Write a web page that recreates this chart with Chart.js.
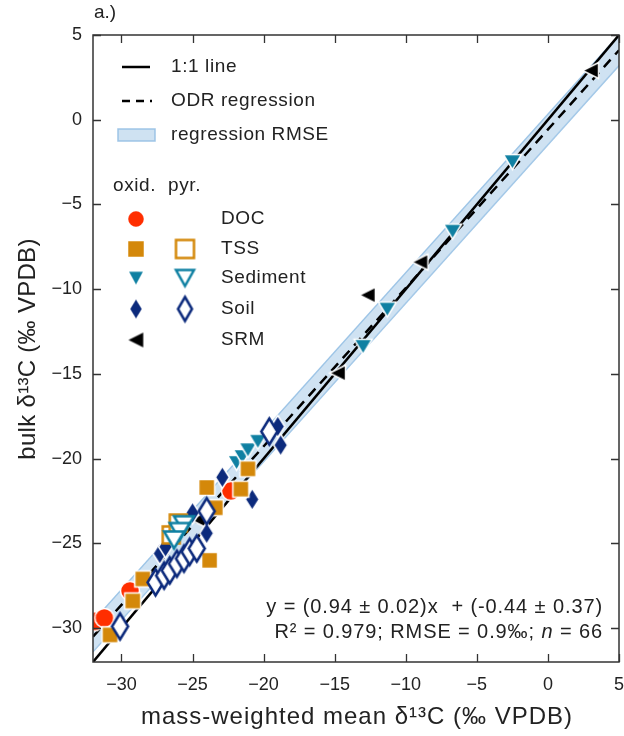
<!DOCTYPE html>
<html>
<head>
<meta charset="utf-8">
<script src="https://cdn.jsdelivr.net/npm/chart.js@4/dist/chart.umd.min.js"></script>
<style>
  html, body { margin: 0; padding: 0; background: #fff; }
  #wrap { width: 624px; height: 736px; }
</style>
</head>
<body>
<div id="wrap"><canvas id="grafico" width="624" height="736"></canvas></div>
<script>
// valores (x = media ponderada, y = bulk)
const docX = [-31.9, -31.2, -29.4, -22.3];
const docY = [-29.6, -29.4, -27.8, -21.9];

const tssOxX = [-30.8, -29.2, -28.5, -24.0, -23.8, -23.4, -21.6, -21.1];
const tssOxY = [-30.4, -28.4, -27.1, -21.7, -26.0, -22.9, -21.8, -20.6];
const tssPyX = [-26.5, -26.0];
const tssPyY = [-24.5, -23.8];

const sedOxX = [-21.9, -21.5, -21.1, -20.4, -13.0, -11.3, -6.7, -2.5];
const sedOxY = [-20.25, -19.9, -19.5, -19.0, -13.4, -11.2, -6.6, -2.5];
const sedPyX = [-25.6, -25.9, -26.3];
const sedPyY = [-23.9, -24.3, -24.8];

const soilOxX = [-27.3, -26.9, -25.0, -24.0, -22.9, -20.8, -19.0, -18.8];
const soilOxY = [-25.6, -25.2, -23.2, -24.4, -21.1, -22.4, -18.1, -19.2];
const soilPyX = [-30.1, -27.6, -27.0, -26.6, -26.1, -25.6, -25.2, -24.7, -24.0, -19.6];
const soilPyY = [-29.9, -27.3, -26.9, -26.6, -26.2, -25.9, -25.5, -25.3, -23.1, -18.4];

const srmX = [3.0, -9.0, -12.7, -14.8, -24.6];
const srmY = [2.9, -8.4, -10.35, -14.95, -23.6];

// lineas
const lineX = [-32, 5];
const oneToOneY = [-32, 5];
const odrY = [-30.5, 4.1];
const bandHiY = [-29.6, 5.0];
const bandLoY = [-31.4, 3.2];

const xTicks = [-30, -25, -20, -15, -10, -5, 0, 5];
const yTicks = [-30, -25, -20, -15, -10, -5, 0, 5];

const C_DOC = "#ff2e00";
const C_TSS = "#d4880a";
const C_SED = "#0f80a2";
const C_SOIL = "#0c2a7c";
const C_SRM = "#000000";
const FONT = "'Liberation Sans', Arial, sans-serif";

function pts(xs, ys) {
  return xs.map((x, i) => ({ x: x, y: ys[i] }));
}

function marcador(forma, w, h, relleno, borde, lw) {
  const c = document.createElement("canvas");
  c.width = Math.ceil(w + lw * 2 + 2);
  c.height = Math.ceil(h + lw * 2 + 2);
  const g = c.getContext("2d");
  g.translate(c.width / 2, c.height / 2);
  g.beginPath();
  if (forma === "circle") g.arc(0, 0, w / 2, 0, Math.PI * 2);
  if (forma === "square") g.rect(-w / 2, -h / 2, w, h);
  if (forma === "down") { g.moveTo(-w / 2, -h / 2); g.lineTo(w / 2, -h / 2); g.lineTo(0, h / 2); }
  if (forma === "left") { g.moveTo(w / 2, -h / 2); g.lineTo(w / 2, h / 2); g.lineTo(-w / 2, 0); }
  if (forma === "diamond") { g.moveTo(0, -h / 2); g.lineTo(w / 2, 0); g.lineTo(0, h / 2); g.lineTo(-w / 2, 0); }
  g.closePath();
  g.fillStyle = relleno;
  g.fill();
  g.lineWidth = lw;
  g.strokeStyle = borde;
  g.lineJoin = "miter";
  g.stroke();
  return c;
}

const mk = {
  doc: marcador("circle", 19, 19, C_DOC, "#fff", 1.5),
  tssOx: marcador("square", 16, 16, C_TSS, "#fff", 1.5),
  tssPy: marcador("square", 17, 17, "#fff", C_TSS, 2.5),
  sedOx: marcador("down", 18, 15, C_SED, "#fff", 1.5),
  sedPy: marcador("down", 20, 17, "#fff", C_SED, 2.5),
  soilOx: marcador("diamond", 14, 22, C_SOIL, "#fff", 1.5),
  soilPy: marcador("diamond", 16, 26, "#fff", C_SOIL, 2.5),
  srm: marcador("left", 16, 16, C_SRM, "#fff", 1.5),
};

const mkLeyenda = {
  doc: marcador("circle", 15, 15, C_DOC, C_DOC, 0.5),
  tssOx: marcador("square", 15, 15, C_TSS, C_TSS, 0.5),
  tssPy: marcador("square", 18, 18, "#fff", C_TSS, 2.5),
  sedOx: marcador("down", 13, 12, C_SED, C_SED, 0.5),
  sedPy: marcador("down", 18, 16, "#fff", C_SED, 2.5),
  soilOx: marcador("diamond", 11, 18, C_SOIL, C_SOIL, 0.5),
  soilPy: marcador("diamond", 14, 24, "#fff", C_SOIL, 2.5),
  srm: marcador("left", 14, 14, C_SRM, C_SRM, 0.5),
};

function serie(label, xs, ys, img, orden) {
  return {
    type: "scatter",
    label: label,
    data: pts(xs, ys),
    pointStyle: img,
    pointRadius: 10,
    clip: 0,
    order: orden,
  };
}

function linea(label, ys, color, ancho, dash, orden, fill, bg) {
  return {
    type: "line",
    label: label,
    data: pts(lineX, ys),
    borderColor: color,
    borderWidth: ancho,
    borderDash: dash,
    pointRadius: 0,
    fill: fill,
    backgroundColor: bg || "transparent",
    clip: 0,
    order: orden,
  };
}

function fmt(v) {
  return v < 0 ? "\u2212" + Math.abs(v) : String(v);
}

function sinPadding(s) {
  s.paddingLeft = 0;
  s.paddingRight = 0;
  s.paddingTop = 0;
  s.paddingBottom = 0;
}

const extras = {
  id: "extras",
  afterDatasetsDraw(chart) {
    const ctx = chart.ctx;
    const a = chart.chartArea;
    const sx = chart.scales.x;
    const sy = chart.scales.y;
    ctx.save();

    // marco y ticks hacia dentro
    ctx.strokeStyle = "#333";
    ctx.lineWidth = 1.5;
    ctx.strokeRect(a.left, a.top, a.right - a.left, a.bottom - a.top);
    ctx.lineWidth = 1.3;
    ctx.beginPath();
    xTicks.forEach((v) => {
      const p = Math.round(sx.getPixelForValue(v)) + 0.5;
      ctx.moveTo(p, a.bottom); ctx.lineTo(p, a.bottom - 8);
      ctx.moveTo(p, a.top); ctx.lineTo(p, a.top + 8);
    });
    yTicks.forEach((v) => {
      const p = Math.round(sy.getPixelForValue(v)) + 0.5;
      ctx.moveTo(a.left, p); ctx.lineTo(a.left + 8, p);
      ctx.moveTo(a.right, p); ctx.lineTo(a.right - 8, p);
    });
    ctx.stroke();

    ctx.fillStyle = "#222";
    ctx.textBaseline = "middle";

    // titulos de ejes
    ctx.font = "24px " + FONT;
    ctx.textAlign = "center";
    ctx.letterSpacing = "1px";
    ctx.fillText("mass-weighted mean \u03b4\u00b9\u00b3C (\u2030 VPDB)", 357, 717);
    ctx.letterSpacing = "0.3px";
    ctx.save();
    ctx.translate(28, 349);
    ctx.rotate(-Math.PI / 2);
    ctx.fillText("bulk \u03b4\u00b9\u00b3C (\u2030 VPDB)", 0, 0);
    ctx.restore();
    ctx.letterSpacing = "0px";

    ctx.font = "19px " + FONT;
    ctx.textAlign = "left";
    ctx.fillText("a.)", 94, 13);

    // leyenda de lineas
    ctx.lineWidth = 2.5;
    ctx.strokeStyle = "#000";
    ctx.beginPath();
    ctx.moveTo(122, 67); ctx.lineTo(150, 67);
    ctx.stroke();
    ctx.setLineDash([8, 6]);
    ctx.beginPath();
    ctx.moveTo(122, 101); ctx.lineTo(152, 101);
    ctx.stroke();
    ctx.setLineDash([]);
    ctx.fillStyle = "rgba(175, 207, 234, 0.6)";
    ctx.strokeStyle = "rgba(150, 192, 228, 0.9)";
    ctx.lineWidth = 1.5;
    ctx.fillRect(118, 129, 37, 12);
    ctx.strokeRect(118, 129, 37, 12);

    ctx.fillStyle = "#222";
    ctx.font = "19px " + FONT;
    ctx.letterSpacing = "0.6px";
    ctx.fillText("1:1 line", 171, 67);
    ctx.fillText("ODR regression", 171, 101);
    ctx.fillText("regression RMSE", 171, 135);
    ctx.fillText("oxid.", 113, 186);
    ctx.fillText("pyr.", 168, 186);

    const filas = [
      ["DOC", 219, mkLeyenda.doc, null],
      ["TSS", 249, mkLeyenda.tssOx, mkLeyenda.tssPy],
      ["Sediment", 278, mkLeyenda.sedOx, mkLeyenda.sedPy],
      ["Soil", 309, mkLeyenda.soilOx, mkLeyenda.soilPy],
      ["SRM", 340, mkLeyenda.srm, null],
    ];
    filas.forEach((f) => {
      ctx.fillText(f[0], 221, f[1]);
      const i1 = f[2];
      ctx.drawImage(i1, 136 - i1.width / 2, f[1] - i1.height / 2);
      if (f[3]) {
        const i2 = f[3];
        ctx.drawImage(i2, 185 - i2.width / 2, f[1] - i2.height / 2);
      }
    });

    // ecuacion
    ctx.textAlign = "right";
    ctx.letterSpacing = "0.9px";
    const F = "20px " + FONT;
    const FI = "italic 20px " + FONT;
    ctx.font = F;
    ctx.fillText("y = (0.94 \u00b1 0.02)x  + (-0.44 \u00b1 0.37)", 603, 607);
    ctx.font = FI;
    const wn = ctx.measureText("n").width;
    ctx.font = F;
    const wRest = ctx.measureText(" = 66").width;
    ctx.fillText(" = 66", 603, 632);
    ctx.font = FI;
    ctx.fillText("n", 603 - wRest, 632);
    ctx.font = F;
    ctx.fillText("R\u00b2 = 0.979; RMSE = 0.9\u2030; ", 603 - wRest - wn, 632);

    ctx.restore();
  },
};

new Chart(document.getElementById("grafico"), {
  type: "scatter",
  data: {
    datasets: [
      linea("lo", bandLoY, "rgba(150, 192, 228, 0.9)", 1.5, [], 20, false),
      linea("hi", bandHiY, "rgba(150, 192, 228, 0.9)", 1.5, [], 19, "-1", "rgba(175, 207, 234, 0.6)"),
      linea("1:1 line", oneToOneY, "#000", 2.5, [], 12, false),
      linea("ODR regression", odrY, "#000", 2.5, [10, 7], 11, false),
      serie("DOC", docX, docY, mk.doc, 10),
      serie("SRM", srmX, srmY, mk.srm, 9),
      serie("Soil oxid", soilOxX, soilOxY, mk.soilOx, 8),
      serie("TSS pyr", tssPyX, tssPyY, mk.tssPy, 7),
      serie("Sediment pyr", sedPyX, sedPyY, mk.sedPy, 6),
      serie("Sediment oxid", sedOxX, sedOxY, mk.sedOx, 5),
      serie("TSS oxid", tssOxX, tssOxY, mk.tssOx, 4),
      serie("Soil pyr", soilPyX, soilPyY, mk.soilPy, 2),
    ],
  },
  options: {
    responsive: false,
    animation: false,
    events: [],
    layout: { autoPadding: false, padding: { top: 35, right: 5, left: 0, bottom: 0 } },
    plugins: {
      legend: { display: false },
      tooltip: { enabled: false },
    },
    scales: {
      x: {
        type: "linear",
        min: -32,
        max: 5,
        grid: { display: false, drawTicks: false },
        border: { display: false },
        afterBuildTicks: (s) => { s.ticks = xTicks.map((v) => ({ value: v })); },
        afterFit: (s) => { s.height = 74; sinPadding(s); },
        ticks: {
          padding: 12,
          color: "#222",
          font: { family: FONT, size: 18 },
          callback: (v) => fmt(v),
        },
      },
      y: {
        type: "linear",
        min: -32,
        max: 5,
        grid: { display: false, drawTicks: false },
        border: { display: false },
        afterBuildTicks: (s) => { s.ticks = yTicks.map((v) => ({ value: v })); },
        afterFit: (s) => { s.width = 93; sinPadding(s); },
        ticks: {
          padding: 11,
          color: "#222",
          font: { family: FONT, size: 18 },
          callback: (v) => fmt(v),
        },
      },
    },
  },
  plugins: [extras],
});
</script>
</body>
</html>
